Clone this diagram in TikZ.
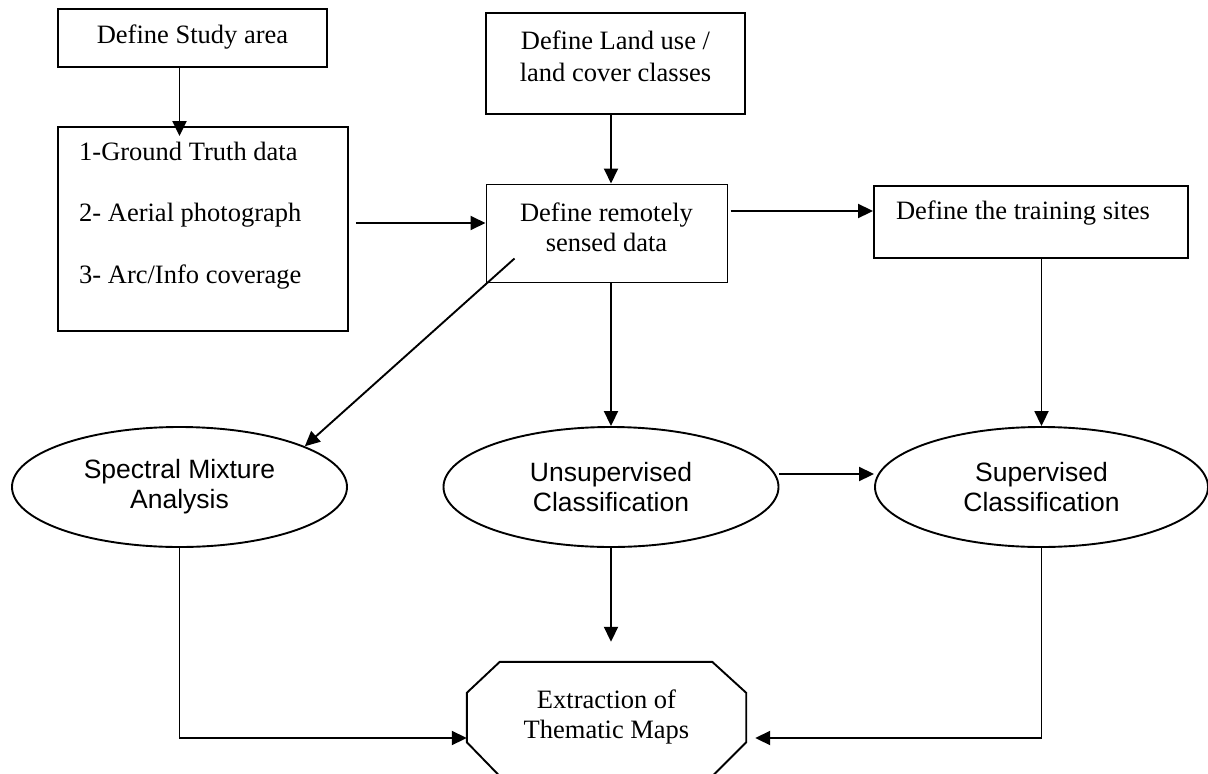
\documentclass[tikz,border=0pt]{standalone}
\usepackage{fontspec}
\setmainfont{Liberation Serif}
\setsansfont{Liberation Sans}
\usetikzlibrary{arrows.meta,calc,shapes.geometric}
\begin{document}
\begin{tikzpicture}[x=1pt,y=-1pt,
  box/.style={draw, line width=1.9pt, inner sep=0pt},
  ell/.style={draw, ellipse, line width=1.9pt, minimum width=335pt, minimum height=120pt, inner sep=0pt,
    font=\sffamily\fontsize{26.5}{30}\selectfont, align=center},
  txt/.style={inner sep=0pt, font=\fontsize{26.5}{32}\selectfont, align=center},
  arr/.style={line width=1.9pt, -{Triangle[length=15pt,width=14pt]}},
  ln/.style={line width=1.9pt}]
\useasboundingbox (0,0) rectangle (1208,774);

% boxes
\node[box, minimum width=269pt, minimum height=58pt] (study) at (192.5,38) {};
\node[box, minimum width=290pt, minimum height=204pt] (ground) at (203,229) {};
\node[box, minimum width=259pt, minimum height=101pt] (land) at (615.5,63.5) {};
\node[box, line width=1pt, minimum width=241pt, minimum height=98pt] (remote) at (606.5,233) {};
\node[box, minimum width=314pt, minimum height=72pt] (train) at (1031,222) {};

% texts in boxes
\node[txt] (studyT) at (192.5,37) {Define Study area};
\node[txt, align=left, anchor=west, font=\fontsize{26.5}{61.5}\selectfont] (groundT) at (79,215.5)
  {1-Ground Truth data\\2- Aerial photograph\\3- Arc/Info coverage};
\node[txt] (landT) at (615.5,56) {Define Land use /\\land cover classes};
\node[txt, font=\fontsize{26.5}{30}\selectfont] (remoteT) at (606.5,227) {Define remotely\\sensed data};
\node[txt] (trainT) at (1023,213) {Define the training sites};

% ellipses
\node[ell] (sma) at (179.5,487) {Spectral Mixture\\Analysis};
\node[ell] (unsup) at (611,487) {Unsupervised\\Classification};
\node[ell, minimum width=333pt] (sup) at (1041.5,487) {Supervised\\Classification};

% octagon
\node[inner sep=0pt, minimum width=279pt, minimum height=114pt] (oct) at (606.5,719) {};
\draw[ln] ($(oct.north west)+(33,0)$) -- ($(oct.north east)+(-34,0)$) -- ($(oct.north east)+(0,31)$)
  -- ($(oct.south east)+(0,-34)$) -- ($(oct.south east)+(-34,0)$) -- ($(oct.south west)+(33,0)$)
  -- ($(oct.south west)+(0,-34)$) -- ($(oct.north west)+(0,31)$) -- cycle;
\node[txt, font=\fontsize{26.5}{30}\selectfont] (octT) at (606.5,717) {Extraction of\\Thematic Maps};

% connectors
\draw[arr] (study.south -| sma.north) -- ([yshift=-10pt]ground.north -| sma.north);
\coordinate (g1) at ([shift={(7,-6)}]ground.east);
\draw[arr] (g1) -- (g1 -| remote.west);
\draw[arr] (land.south -| unsup.north) -- (remote.north -| unsup.north);
\coordinate (r1) at ([shift={(3,-22)}]remote.east);
\draw[arr] (r1) -- (r1 -| train.west);
\draw[arr] (remote.south -| unsup.north) -- (unsup.north);
\coordinate (d1) at ([shift={(29,-24)}]remote.south west);
\draw[arr] (d1) -- (sma.18);
\draw[arr] (train.south -| sup.north) -- (sup.north);
\coordinate (u1) at ([shift={(0,-13)}]unsup.east);
\draw[arr] (u1) -- (u1 -| sup.west);
\coordinate (ofree) at (oct.north -| unsup.south);
\coordinate (ufree) at ([yshift=20pt]ofree);
\draw[arr] (unsup.south) -- (ufree);
\coordinate (ol) at ([yshift=-19pt]oct.west);
\draw[arr] (sma.south) |- (ol);
\coordinate (or) at ([shift={(9,19)}]oct.east);
\draw[arr] (sup.south) |- (or);
\end{tikzpicture}
\end{document}
